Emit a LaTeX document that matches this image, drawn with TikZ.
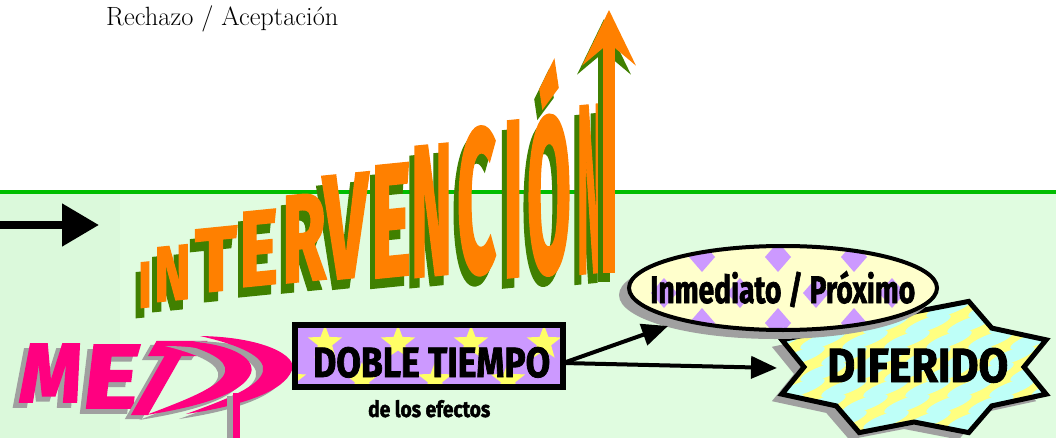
\documentclass[tikz,border=0pt]{standalone}
\usepackage{fontspec}
\usepackage{graphicx}
\newfontfamily\artfont{Fira Sans}[BoldFeatures={FakeBold=2}]
\usetikzlibrary{arrows.meta,shapes.geometric,positioning}

\definecolor{mintbg}{RGB}{224,252,224}
\definecolor{mintleft}{RGB}{219,249,219}
\definecolor{rulegreen}{RGB}{0,190,0}
\definecolor{artorange}{RGB}{255,128,0}
\definecolor{artgreen}{RGB}{64,128,0}
\definecolor{artpink}{RGB}{255,0,128}
\definecolor{artgray}{RGB}{160,160,160}
\definecolor{lilac}{RGB}{204,153,255}
\definecolor{staryellow}{RGB}{255,255,102}
\definecolor{creamy}{RGB}{255,255,204}
\definecolor{aqua}{RGB}{190,255,248}
\definecolor{lemon}{RGB}{255,255,128}

\newcommand{\art}[3]{\resizebox{#1pt}{#2pt}{\artfont\bfseries #3}}
\newcommand{\sealpath}{plot[samples at={0,...,15}, variable=\k]
  ({914+(mod(\k,2)==0 ? 143 : 110)*cos(22.5*(\k+1))},
   {367+(mod(\k,2)==0 ? 71 : 55)*sin(22.5*(\k+1))}) -- cycle}

\begin{document}
\begin{tikzpicture}[x=1pt, y=-1pt,
    letter/.style={anchor=south west, inner sep=0pt, outer sep=0pt, yslant=0.1},
    pinkltr/.style={anchor=south west, inner sep=0pt, outer sep=0pt, xslant=0.12},
    lbl/.style={anchor=base west, inner sep=0pt},
    upshaft/.style={line width=12pt, -{Stealth[length=55pt,width=53pt,inset=22pt]}},
    blackarrow/.style={line width=4pt, -{Triangle[length=26pt,width=22pt]}},
    starmark/.style={star, star points=5, star point ratio=2.4,
                     minimum size=36pt, inner sep=0pt, fill=staryellow},
    bubble/.style={ellipse, fill=creamy, minimum width=308pt,
                   minimum height=84pt, inner sep=0pt}]
  \useasboundingbox (0,0) rectangle (1056,438);
  % background
  \fill[white] (0,0) rectangle (1056,438);
  \fill[mintleft] (0,193) rectangle (120,438);
  \fill[mintbg] (120,193) rectangle (1056,438);
  \draw[rulegreen, line width=4pt] (0,192) -- (1056,192);

  \node[lbl, font=\fontsize{26.4}{30}\selectfont] (rech) at (106,26) {Rechazo / Aceptación};

  \coordinate (inL) at (0,225);
  \coordinate (inR) at (99,225);
  \draw[line width=8pt, -{Triangle[length=37pt,width=41pt]}] (inL) -- (inR);

  % INTERVENCION
  \foreach \ch/\px/\py/\w/\h [count=\i] in {I/138/308/14/45, N/154/302/37/54,
      T/195/293/42/63, E/239/287/39/74, R/282/283/44/86, V/323/280/45/103,
      E/371/278/40/111, N/411/277/41/129, C/457/277/39/144, I/503/277/20/154,
      Ó/527/277/44/209, N/577/273/28/165}
    \node[letter, text=artgreen] (sh\i) at (\px-5,\py+10) {\art{\w}{\h}{\ch}};
  \foreach \ch/\px/\py/\w/\h [count=\i] in {I/138/308/14/45, N/154/302/37/54,
      T/195/293/42/63, E/239/287/39/74, R/282/283/44/86, V/323/280/45/103,
      E/371/278/40/111, N/411/277/41/129, C/457/277/39/144, I/503/277/20/154,
      Ó/527/277/44/209, N/577/273/28/165}
    \node[letter, text=artorange] (ltr\i) at (\px,\py) {\art{\w}{\h}{\ch}};

  \coordinate (upbot) at (609,273);
  \coordinate (uptop) at (609,10);
  \draw[upshaft, artgreen] ([shift={(-5,9)}]upbot) -- ([shift={(-5,9)}]uptop);
  \draw[upshaft, artorange] (upbot) -- (uptop);

  % pink word
  \node[pinkltr, text=artgray] (msh) at (11,407) {\art{62}{58}{M}};
  \node[pinkltr, text=artpink] (mltr) at (17,402) {\art{62}{58}{M}};
  \node[pinkltr, text=artgray] (esh) at (74,413) {\art{56}{63}{E}};
  \node[pinkltr, text=artpink] (eltr) at (80,408) {\art{56}{63}{E}};
  \node[pinkltr, text=artgray, xslant=0.45] (tsh) at (109,418) {\art{50}{72}{T}};
  \node[pinkltr, text=artpink, xslant=0.45] (tltr) at (115,414) {\art{50}{72}{T}};
  \foreach \sx/\sy/\col in {-7/5/artgray, 0/0/artpink} {
    \fill[\col, shift={(\sx,\sy)}] (172,341) .. controls (230,341) and (256,358) .. (251,373)
      .. controls (243,394) and (198,407) .. (146,415)
      .. controls (186,400) and (222,386) .. (225,372)
      .. controls (228,360) and (208,350) .. (172,341) -- cycle;
    \fill[\col, shift={(\sx,\sy)}] (200,336) .. controls (264,337) and (298,356) .. (292,370)
      .. controls (284,392) and (240,406) .. (186,414)
      .. controls (228,399) and (260,386) .. (263,371)
      .. controls (266,357) and (240,345) .. (200,336) -- cycle;
  }
  \fill[artgray] (227,396) rectangle (233,438);
  \fill[artpink] (233,393) rectangle (240,438);

  % doble tiempo
  \node[fill=lilac, minimum width=268pt, minimum height=62pt, inner sep=0pt] (doble) at (429,356) {};
  \begin{scope}
    \clip (doble.north west) rectangle (doble.south east);
    \foreach \c in {-1,...,4} {
      \node[starmark] (sta\c) at (325+73*\c,343) {};
      \node[starmark] (stb\c) at (362+73*\c,380) {};
    }
  \end{scope}
  \draw[line width=6pt] (doble.north west) rectangle (doble.south east);
  \node[lbl] (doblelbl) at (313,377) {\art{237}{30}{DOBLE TIEMPO}};
  \node[lbl] (efectos) at (368,417) {\art{122}{17}{de los efectos}};

  % diferido
  \fill[artgray, shift={(-10,7)}] \sealpath;
  \fill[lemon] \sealpath;
  \begin{scope}
    \clip \sealpath;
    \foreach \r in {0,...,9}
      \foreach \c in {0,...,7}
        \fill[aqua] ({760+\c*42+mod(\r,2)*21}, {292+\r*16}) ellipse [x radius=24, y radius=6, rotate=20];
  \end{scope}
  \draw[line width=5pt] \sealpath;
  \node[lbl] (diflbl) at (827,382) {\art{181}{34}{DIFERIDO}};

  % inmediato
  \fill[artgray] (775,295) ellipse [x radius=156, y radius=44];
  \node[bubble] (inmed) at (783,288) {};
  \begin{scope}
    \clip (inmed.center) ellipse [x radius=154, y radius=42];
    \foreach \c in {0,...,4} {
      \fill[lilac] (626+76*\c,242) -- (639+76*\c,257) -- (626+76*\c,272) -- (613+76*\c,257) -- cycle;
      \fill[lilac] (626+76*\c,308) -- (639+76*\c,323) -- (626+76*\c,338) -- (613+76*\c,323) -- cycle;
    }
    \foreach \c in {-1,...,4}
      \fill[lilac] (664+76*\c,278) -- (677+76*\c,293) -- (664+76*\c,308) -- (651+76*\c,293) -- cycle;
  \end{scope}
  \draw[line width=4pt] (inmed.center) ellipse [x radius=154, y radius=42];
  \node[lbl] (inmedlbl) at (650,303) {\art{265}{32}{Inmediato / Próximo}};

  \coordinate (tipA) at (668,326);
  \coordinate (tipB) at (777,368);
  \draw[blackarrow] ([yshift=-7pt]doble.east) -- (tipA);
  \draw[blackarrow] ([yshift=-7pt]doble.east) -- (tipB);
\end{tikzpicture}
\end{document}
